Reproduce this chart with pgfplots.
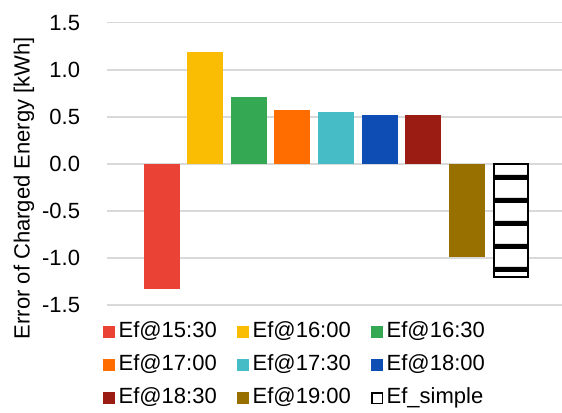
\documentclass[border=0pt]{standalone}
\usepackage{pgfplots}
\pgfplotsset{compat=1.18}
\usepackage{fontspec}
\setmainfont{Liberation Sans}
\usetikzlibrary{patterns.meta}
\tikzdeclarepattern{
  name=hstripes,
  type=uncolored,
  bottom left={(0pt,0pt)},
  top right={(40pt,17.6pt)},
  tile size={(40pt,17.6pt)},
  code={\fill (0pt,0pt) rectangle (40pt,3.9pt);}
}
\definecolor{c1}{HTML}{EA4335}
\definecolor{c2}{HTML}{FBBC04}
\definecolor{c3}{HTML}{34A853}
\definecolor{c4}{HTML}{FF6D01}
\definecolor{c5}{HTML}{46BDC6}
\definecolor{c6}{HTML}{0D4DB4}
\definecolor{c7}{HTML}{9B1C12}
\definecolor{c8}{HTML}{987000}
\definecolor{gridc}{HTML}{D9D9D9}
\begin{document}
\fontsize{16.5}{19.5}\selectfont
\begin{tikzpicture}
\useasboundingbox (-80.25pt,-80.25pt) rectangle (341.25pt,228.75pt);
\begin{axis}[
  at={(0pt,0pt)}, anchor=south west,
  scale only axis,
  width=342pt, height=211.7pt,
  xmin=-1.25, xmax=9.2,
  ymin=-1.5, ymax=1.5,
  ytick={-1.5,-1,-0.5,0,0.5,1,1.5},
  xtick=\empty,
  ymajorgrids,
  grid style={draw=gridc, line width=1.1pt},
  axis line style={draw=none},
  major tick style={draw=none},
  /pgf/number format/assume math mode=true,
  /pgf/number format/fixed,
  /pgf/number format/fixed zerofill,
  /pgf/number format/precision=1,
  yticklabel style={anchor=east, inner sep=0pt, xshift=-20pt, font=\fontsize{16.5}{19.5}\selectfont},
  ylabel={Error of Charged Energy [kWh]},
  ylabel style={at={(axis description cs:-0.182,0.414)}, anchor=center, rotate=0, font=\fontsize{16.5}{19.5}\selectfont},
  every axis plot/.append style={ybar, bar width=27pt, bar shift=0pt, draw=none},
  legend columns=3,
  legend cell align=left,
  legend style={at={(axis description cs:-0.009,-0.0556)}, anchor=north west, draw=none, fill=none, inner sep=0pt,
    font=\fontsize{16.5}{19.5}\selectfont,
    nodes={inner sep=0pt, text height=12.1pt, text depth=3.8pt},
    row sep=9.1pt,
    /tikz/every odd column/.append style={column sep=2.6pt},
    /tikz/every even column/.append style={column sep=15.3pt}},
  legend image code/.code={\fill[#1, draw=none] (0pt,-4.5pt) rectangle (9pt,4.5pt);},
]
\addplot[fill=c1] coordinates {(0,-1.33)};
\addlegendentry{Ef@15:30}
\addplot[fill=c2] coordinates {(1,1.19)};
\addlegendentry{Ef@16:00}
\addplot[fill=c3] coordinates {(2,0.71)};
\addlegendentry{Ef@16:30}
\addplot[fill=c4] coordinates {(3,0.57)};
\addlegendentry{Ef@17:00}
\addplot[fill=c5] coordinates {(4,0.55)};
\addlegendentry{Ef@17:30}
\addplot[fill=c6] coordinates {(5,0.52)};
\addlegendentry{Ef@18:00}
\addplot[fill=c7] coordinates {(6,0.52)};
\addlegendentry{Ef@18:30}
\addplot[fill=c8] coordinates {(7,-0.99)};
\addlegendentry{Ef@19:00}
\addplot[fill=white, draw=black, line width=1.4pt, bar width=25.5pt,
  postaction={pattern=hstripes, pattern color=black},
  legend image code/.code={\draw[fill=white, draw=black, line width=1pt] (0.5pt,-4pt) rectangle (8.5pt,4pt);}]
  coordinates {(8,-1.20)};
\addlegendentry{Ef\_simple}
\end{axis}
\end{tikzpicture}
\end{document}
